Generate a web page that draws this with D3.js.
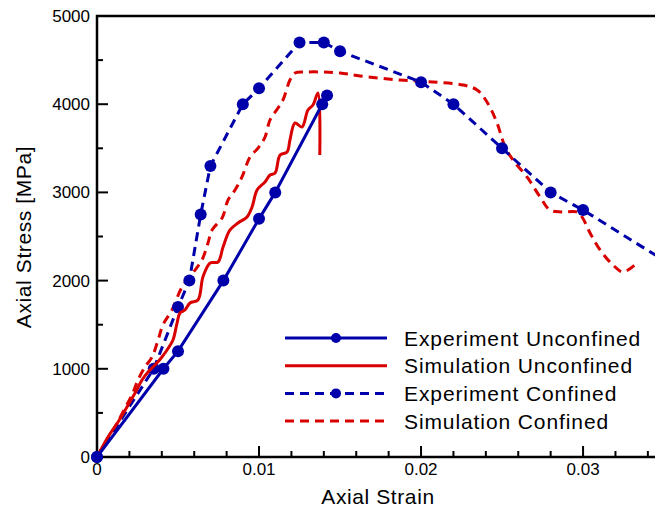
<!DOCTYPE html>
<html>
<head>
<meta charset="utf-8">
<script src="https://cdn.jsdelivr.net/npm/d3@7"></script>
<style>
  body { margin: 0; background: #fff; }
  svg { display: block; font-family: "Liberation Sans", Arial, sans-serif; }
</style>
</head>
<body>
<svg id="chart" width="655" height="512"></svg>
<script>
// strain, stress [MPa]
var expUnconfined = [
    [0, 0], [0.0041, 1000], [0.005, 1200], [0.0078, 2000], [0.01, 2700],
    [0.011, 3000], [0.0139, 4000], [0.0142, 4100]
];
var simUnconfined = [
    [0, 0], [0.00068, 227], [0.0013, 397], [0.00185, 567], [0.00235, 726],
    [0.00278, 873], [0.00315, 964], [0.00358, 1043], [0.00401, 1134], [0.00432, 1213],
    [0.00469, 1327], [0.00494, 1519], [0.00512, 1633], [0.00543, 1667], [0.00574, 1746],
    [0.00623, 1780], [0.00654, 2041], [0.00698, 2200], [0.00747, 2211], [0.00778, 2381],
    [0.00821, 2574], [0.0087, 2653], [0.00926, 2721], [0.00957, 2834], [0.00988, 3027],
    [0.01037, 3118], [0.01068, 3197], [0.01099, 3220], [0.0113, 3424], [0.01173, 3458],
    [0.01191, 3594], [0.01222, 3787], [0.01265, 3741], [0.01302, 3934], [0.01333, 3991],
    [0.01364, 4127], [0.01375, 3424]
];
var expConfined = [
    [0, 0], [0.0035, 1000], [0.005, 1700], [0.0057, 2000], [0.0064, 2750],
    [0.007, 3300], [0.009, 4000], [0.01, 4180], [0.0125, 4700], [0.014, 4700],
    [0.015, 4600], [0.02, 4250], [0.022, 4000], [0.025, 3500], [0.028, 3000],
    [0.03, 2800], [0.0352, 2205]
];
var simConfined = [
    [0, 0], [0.00049, 159], [0.00111, 340], [0.00173, 556], [0.00216, 703],
    [0.00253, 873], [0.00296, 1020], [0.0034, 1134], [0.00377, 1327], [0.00407, 1497],
    [0.00463, 1667], [0.00525, 1927], [0.00605, 2120], [0.00648, 2234], [0.00685, 2426],
    [0.0071, 2574], [0.00772, 2710], [0.00809, 2914], [0.00852, 3027], [0.00895, 3175],
    [0.00944, 3401], [0.00994, 3503], [0.01037, 3628], [0.01068, 3821], [0.01117, 3957],
    [0.01148, 4048], [0.01191, 4274], [0.01222, 4354], [0.01296, 4365], [0.01395, 4365],
    [0.015, 4354], [0.01623, 4320], [0.0187, 4274], [0.02074, 4252], [0.02259, 4218],
    [0.02346, 4161], [0.02407, 4025], [0.02469, 3787], [0.02519, 3515], [0.02568, 3367],
    [0.02654, 3175], [0.02735, 2948], [0.02796, 2800], [0.0287, 2778], [0.02963, 2778],
    [0.02994, 2721], [0.03043, 2540], [0.03105, 2347], [0.03185, 2177], [0.03247, 2098],
    [0.03333, 2200]
];
var xTicks = [0, 0.01, 0.02, 0.03];
var yTicks = [0, 1000, 2000, 3000, 4000, 5000];
var legendLabels = ["Experiment Unconfined", "Simulation Unconfined", "Experiment Confined", "Simulation Confined"];

var BLUE = "#0000aa", RED = "#d90000";

var svg = d3.select("#chart");
var margins = { top: 16, bottom: 55, left: 97, right: 0 };
var width = 655 - margins.left - margins.right;
var height = 512 - margins.top - margins.bottom;

var x = d3.scaleLinear().domain([0, 0.03444]).range([margins.left, margins.left + width]);
var y = d3.scaleLinear().domain([0, 5000]).range([margins.top + height, margins.top]);

svg.append("clipPath").attr("id", "clip")
    .append("rect")
    .attr("x", margins.left).attr("y", margins.top)
    .attr("width", width).attr("height", height);

// ticks, pointing inward
var xAxis = svg.append("g").attr("transform", "translate(0," + y(0) + ")");
xAxis.selectAll(".minor").data(d3.range(0, 0.0345, 0.002))
    .enter().append("line")
    .attr("x1", d => x(d)).attr("x2", d => x(d))
    .attr("y1", 0).attr("y2", d => xTicks.some(t => Math.abs(t - d) < 1e-6) ? -11 : -6)
    .attr("stroke", "#000").attr("stroke-width", 2);
xAxis.selectAll("text").data(xTicks).enter().append("text")
    .attr("x", d => x(d)).attr("y", 18)
    .attr("text-anchor", "middle")
    .style("font-size", "17px")
    .text(d => d === 0 ? "0" : d3.format(".2f")(d));

var yAxis = svg.append("g").attr("transform", "translate(" + x(0) + ",0)");
yAxis.selectAll("line").data(d3.range(0, 5001, 500))
    .enter().append("line")
    .attr("y1", d => y(d)).attr("y2", d => y(d))
    .attr("x1", 0).attr("x2", d => d % 1000 === 0 ? 11 : 6)
    .attr("stroke", "#000").attr("stroke-width", 2);
yAxis.selectAll("text").data(yTicks).enter().append("text")
    .attr("x", -7).attr("y", d => y(d) + 6)
    .attr("text-anchor", "end")
    .style("font-size", "17px")
    .text(d => d);

// frame
svg.append("path")
    .attr("d", "M" + (margins.left + width + 5) + "," + y(5000) + "H" + x(0) + "V" + y(0) + "H" + (margins.left + width + 5))
    .attr("fill", "none").attr("stroke", "#000").attr("stroke-width", 2.5);

// axis titles
svg.append("text")
    .attr("x", 378).attr("y", 504)
    .attr("text-anchor", "middle")
    .style("font-size", "21px")
    .style("letter-spacing", "0.6px")
    .text("Axial Strain");
svg.append("text")
    .attr("transform", "translate(31," + 237 + ") rotate(-90)")
    .attr("text-anchor", "middle")
    .style("font-size", "21px")
    .style("letter-spacing", "0.6px")
    .text("Axial Stress [MPa]");

var lineStraight = d3.line().x(d => x(d[0])).y(d => y(d[1]));
var lineSmooth = d3.line().curve(d3.curveCatmullRom.alpha(0.5)).x(d => x(d[0])).y(d => y(d[1]));

var series = [
    { data: simConfined, color: RED, dash: "9,6", gen: lineSmooth, markers: false },
    { data: expConfined, color: BLUE, dash: "9,6", gen: lineStraight, markers: true },
    { data: simUnconfined, color: RED, dash: null, gen: lineSmooth, markers: false },
    { data: expUnconfined, color: BLUE, dash: null, gen: lineStraight, markers: true }
];

var c = svg.append("g");
series.forEach(function (s) {
    c.append("path")
        .attr("clip-path", "url(#clip)")
        .attr("d", s.gen(s.data))
        .attr("fill", "none")
        .attr("stroke", s.color)
        .attr("stroke-width", 3)
        .attr("stroke-dasharray", s.dash);
    if (s.markers) {
        c.selectAll(null).data(s.data).enter().append("circle")
            .attr("cx", d => x(d[0])).attr("cy", d => y(d[1]))
            .attr("r", 6)
            .attr("fill", s.color);
    }
});

// legend
var legendItems = [
    { label: legendLabels[0], color: BLUE, dash: null, marker: true },
    { label: legendLabels[1], color: RED, dash: null, marker: false },
    { label: legendLabels[2], color: BLUE, dash: "9,6", marker: true },
    { label: legendLabels[3], color: RED, dash: "9,6", marker: false }
];
var lg = svg.append("g").attr("transform", "translate(285,338)");
legendItems.forEach(function (d, i) {
    var row = lg.append("g").attr("transform", "translate(0," + (i * 27.7) + ")");
    row.append("line")
        .attr("x1", 0).attr("x2", 102)
        .attr("stroke", d.color).attr("stroke-width", 3)
        .attr("stroke-dasharray", d.dash);
    if (d.marker) {
        row.append("circle").attr("cx", 51).attr("r", 5).attr("fill", d.color);
    }
    row.append("text")
        .attr("x", 119).attr("y", 7.5)
        .style("font-size", "21px")
        .style("letter-spacing", "0.9px")
        .text(d.label);
});
</script>
</body>
</html>
